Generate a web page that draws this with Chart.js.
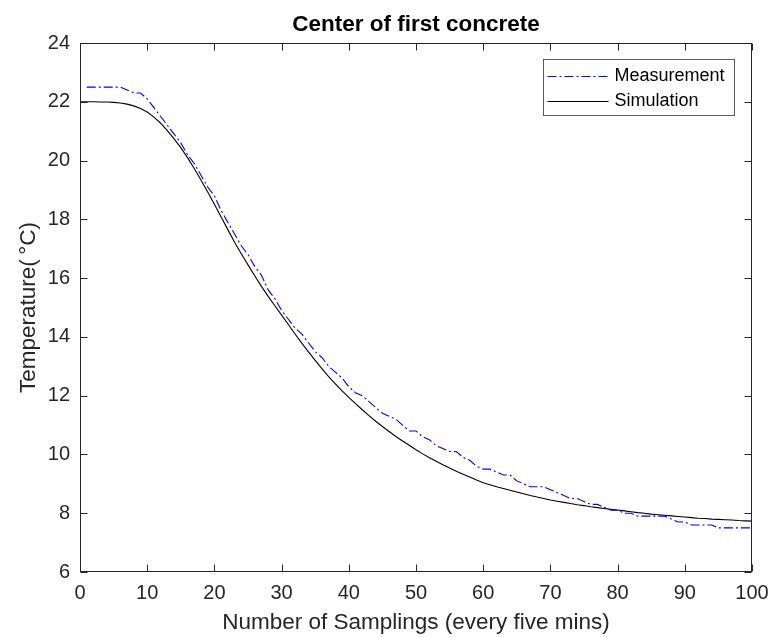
<!DOCTYPE html>
<html>
<head>
<meta charset="utf-8">
<title>Center of first concrete</title>
<script src="https://cdn.jsdelivr.net/npm/chart.js@4.4.1/dist/chart.umd.min.js"></script>
<style>
html,body{margin:0;padding:0;background:#fff;}
#wrap{width:770px;height:637px;position:relative;}
</style>
</head>
<body>
<div id="wrap"><canvas id="grafico" width="770" height="637"></canvas></div>
<script>

// =============================
// DADOS
// =============================

// simulation, one value per sampling 0..100
const simTemp = [
22.00,22.00,22.00,21.99,21.99,21.98,21.96,21.92,21.86,21.77,
21.65,21.48,21.27,21.02,20.74,20.44,20.10,19.73,19.34,18.93,
18.51,18.08,17.65,17.22,16.83,16.45,16.08,15.72,15.38,15.06,
14.74,14.42,14.10,13.79,13.49,13.20,12.92,12.65,12.40,12.16,
11.94,11.73,11.52,11.32,11.13,10.95,10.78,10.61,10.46,10.31,
10.16,10.02,9.89,9.77,9.65,9.54,9.43,9.33,9.23,9.13,
9.04,8.97,8.90,8.84,8.78,8.72,8.66,8.60,8.55,8.50,
8.45,8.41,8.37,8.33,8.29,8.26,8.22,8.19,8.16,8.13,
8.11,8.08,8.05,8.02,8.00,7.97,7.95,7.93,7.91,7.89,
7.87,7.85,7.83,7.82,7.80,7.79,7.78,7.77,7.75,7.74,
7.73
];

// measurement, samplings 1..100
const measTemp = [
22.5,22.5,22.5,22.5,22.5,22.5,22.4,22.3,22.3,22.1,
21.8,21.5,21.2,20.9,20.6,20.2,19.9,19.5,19.1,18.8,
18.3,17.9,17.5,17.1,16.8,16.4,16.1,15.6,15.3,14.9,
14.6,14.3,14.1,13.8,13.5,13.3,13.0,12.8,12.6,12.3,
12.1,12.0,11.8,11.6,11.4,11.3,11.2,11.0,10.8,10.8,
10.6,10.5,10.3,10.2,10.1,10.1,9.9,9.8,9.6,9.5,
9.5,9.4,9.3,9.3,9.1,9.0,8.9,8.9,8.9,8.8,
8.7,8.6,8.5,8.5,8.4,8.3,8.3,8.2,8.1,8.1,
8.0,8.0,7.9,7.9,7.9,7.9,7.9,7.8,7.7,7.7,
7.6,7.6,7.6,7.6,7.5,7.5,7.5,7.5,7.5,7.5
];

const xTicks = [0,10,20,30,40,50,60,70,80,90,100];
const yTicks = [6,8,10,12,14,16,18,20,22,24];

const fonte = '"Liberation Sans", Arial, Helvetica, sans-serif';
const corEixo = "#262626";


// =============================
// CAIXA + TICKS PARA DENTRO + LEGENDA
// =============================

const caixaPlugin = {
id: "caixa",
afterDatasetsDraw(chart){

const ctx = chart.ctx;
const a = chart.chartArea;
const sx = chart.scales.x;
const sy = chart.scales.y;
const L = Math.round(a.left)+0.5, R = Math.round(a.right)-0.5;
const T = Math.round(a.top)+0.5, B = Math.round(a.bottom)-0.5;
const tam = 7;

ctx.save();
ctx.strokeStyle = corEixo;
ctx.lineWidth = 1;
ctx.setLineDash([]);

ctx.beginPath();
sx.ticks.forEach(t=>{
const px = Math.round(sx.getPixelForValue(t.value))+0.5;
ctx.moveTo(px,B); ctx.lineTo(px,B-tam);
ctx.moveTo(px,T); ctx.lineTo(px,T+tam);
});
sy.ticks.forEach(t=>{
const py = Math.round(sy.getPixelForValue(t.value))+0.5;
ctx.moveTo(L,py); ctx.lineTo(L+tam,py);
ctx.moveTo(R,py); ctx.lineTo(R-tam,py);
});
ctx.stroke();

ctx.strokeRect(L,T,R-L,B-T);

// legenda
const lx = 543.5, ly = 59.5, lw = 191, lh = 56;
ctx.fillStyle = "#fff";
ctx.fillRect(lx,ly,lw,lh);
ctx.strokeStyle = "#5a5a5a";
ctx.strokeRect(lx,ly,lw,lh);

ctx.font = "18px " + fonte;
ctx.textBaseline = "middle";
ctx.textAlign = "left";

chart.data.datasets.forEach((ds,i)=>{
const yy = Math.round(ly + 16 + i*25) + 0.5;
ctx.strokeStyle = ds.borderColor;
ctx.lineWidth = ds.borderWidth;
ctx.setLineDash(ds.borderDash || []);
ctx.beginPath();
ctx.moveTo(lx+4,yy);
ctx.lineTo(lx+65,yy);
ctx.stroke();
ctx.fillStyle = "#000";
ctx.fillText(ds.label, lx+71, yy);
});

ctx.restore();

}
};


// =============================
// GRAFICO
// =============================

const ctx = document.getElementById("grafico").getContext("2d");

new Chart(ctx,{
type:"line",
data:{
datasets:[
{
label:"Measurement",
data: measTemp.map((v,i)=>({x:i+1, y:v})),
borderColor:"#0000ff",
borderWidth:1.1,
borderDash:[9,3,2,3],
pointRadius:0,
fill:false,
tension:0
},
{
label:"Simulation",
data: simTemp.map((v,i)=>({x:i, y:v})),
borderColor:"#000000",
borderWidth:1.1,
pointRadius:0,
fill:false,
tension:0
}
]
},
options:{
responsive:false,
animation:false,
devicePixelRatio:1,
layout:{ padding:{ left:0, right:18, top:0, bottom:0 } },
plugins:{
legend:{ display:false },
tooltip:{ enabled:false },
title:{
display:true,
fullSize:false,
text:"Center of first concrete",
color:"#000",
font:{ family:fonte, size:22.5, weight:"bold" },
padding:{ top:11, bottom:5 }
}
},
scales:{
x:{
type:"linear",
min:0,
max:100,
afterBuildTicks: s => { s.ticks = xTicks.map(v=>({value:v})); },
afterFit: s => { s.height = 65; s.paddingLeft = 0; s.paddingRight = 0; },
grid:{ display:false, drawTicks:false },
border:{ display:false },
ticks:{ color:corEixo, padding:9, maxRotation:0, autoSkip:false, font:{ family:fonte, size:20 } },
title:{
display:true,
text:"Number of Samplings (every five mins)",
color:corEixo,
font:{ family:fonte, size:22.5 },
padding:{ top:0, bottom:1 }
}
},
y:{
type:"linear",
min:6,
max:24,
afterBuildTicks: s => { s.ticks = yTicks.map(v=>({value:v})); },
afterFit: s => { s.width = 80; },
grid:{ display:false, drawTicks:false },
border:{ display:false },
ticks:{ color:corEixo, padding:10, autoSkip:false, font:{ family:fonte, size:20 } },
title:{
display:true,
text:"Temperature(\u2009°C)",
color:corEixo,
font:{ family:fonte, size:22.5 },
padding:{ top:15, bottom:0 }
}
}
}
},
plugins:[caixaPlugin]
});

</script>
</body>
</html>
